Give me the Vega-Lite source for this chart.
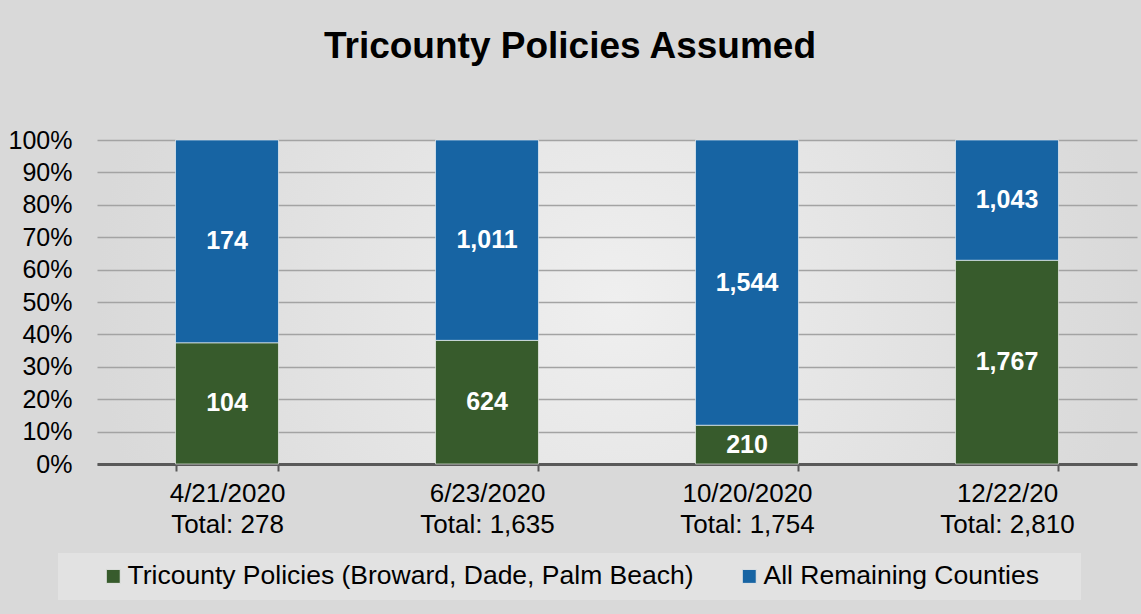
{
  "$schema": "https://vega.github.io/schema/vega-lite/v6.json",
  "width": 1040,
  "height": 324,
  "autosize": {"type": "none"},
  "padding": {"left": 97, "top": 140, "right": 4, "bottom": 150},
  "background": "#d9d9d9",
  "title": {
    "text": "Tricounty Policies Assumed",
    "fontSize": 37,
    "font": "Liberation Sans",
    "fontWeight": "bold",
    "color": "#000000",
    "anchor": "middle",
    "dx": -47,
    "offset": 62
  },
  "config": {
    "font": "Liberation Sans",
    "view": {
      "stroke": null,
      "fill": {
        "gradient": "radial",
        "stops": [
          {"offset": 0, "color": "#efefef"},
          {"offset": 1, "color": "#d9d9d9"}
        ]
      }
    },
    "axisY": {
      "title": null,
      "values": [0, 0.1, 0.2, 0.3, 0.4, 0.5, 0.6, 0.7, 0.8, 0.9, 1],
      "format": ".0%",
      "domain": false,
      "ticks": false,
      "labelFontSize": 25,
      "labelColor": "#000000",
      "labelFont": "Liberation Sans",
      "labelPadding": 25,
      "labelFlush": false,
      "labelOverlap": false,
      "gridColor": "#a3a3a3",
      "gridWidth": 1.5
    }
  },
  "data": {
    "values": [
      {"cat": "4/21/2020|Total: 278", "series": "Tricounty Policies (Broward, Dade, Palm Beach)", "ord": 1, "count": 104},
      {"cat": "4/21/2020|Total: 278", "series": "All Remaining Counties", "ord": 2, "count": 174},
      {"cat": "6/23/2020|Total: 1,635", "series": "Tricounty Policies (Broward, Dade, Palm Beach)", "ord": 1, "count": 624},
      {"cat": "6/23/2020|Total: 1,635", "series": "All Remaining Counties", "ord": 2, "count": 1011},
      {"cat": "10/20/2020|Total: 1,754", "series": "Tricounty Policies (Broward, Dade, Palm Beach)", "ord": 1, "count": 210},
      {"cat": "10/20/2020|Total: 1,754", "series": "All Remaining Counties", "ord": 2, "count": 1544},
      {"cat": "12/22/20|Total: 2,810", "series": "Tricounty Policies (Broward, Dade, Palm Beach)", "ord": 1, "count": 1767},
      {"cat": "12/22/20|Total: 2,810", "series": "All Remaining Counties", "ord": 2, "count": 1043}
    ]
  },
  "encoding": {
    "x": {
      "field": "cat",
      "type": "nominal",
      "sort": null,
      "scale": {"paddingInner": 0.604, "paddingOuter": 0.302},
      "axis": {
        "title": null,
        "labelAngle": 0,
        "labelExpr": "split(datum.label, '|')",
        "labelFontSize": 26,
        "labelLineHeight": 31,
        "labelColor": "#000000",
        "labelFont": "Liberation Sans",
        "labelPadding": 9,
        "domainColor": "#595959",
        "domainWidth": 3,
        "tickColor": "#595959",
        "tickWidth": 2,
        "tickSize": 7,
        "tickBand": "extent",
        "grid": false
      }
    }
  },
  "layer": [
    {
      "mark": {"type": "bar", "stroke": "#ffffff", "strokeOpacity": 0.6, "strokeWidth": 1},
      "encoding": {
        "y": {
          "field": "count",
          "type": "quantitative",
          "stack": "normalize",
          "scale": {"domain": [0, 1]},
          "axis": {"values": [0, 0.1, 0.2, 0.3, 0.4, 0.5, 0.6, 0.7, 0.8, 0.9, 1], "format": ".0%", "title": null}
        },
        "color": {
          "field": "series",
          "type": "nominal",
          "scale": {
            "domain": ["Tricounty Policies (Broward, Dade, Palm Beach)", "All Remaining Counties"],
            "range": ["#375B2C", "#1764A3"]
          },
          "legend": {
            "orient": "none",
            "legendX": -39,
            "legendY": 413,
            "direction": "horizontal",
            "title": " ",
            "titleOrient": "right",
            "titleFontSize": 10,
            "titlePadding": 32,
            "fillColor": "#e2e2e2",
            "padding": 10,
            "symbolType": "square",
            "symbolSize": 196,
            "symbolStrokeWidth": 1,
            "symbolStrokeColor": "#e6e6e6",
            "symbolOffset": 32,
            "labelFontSize": 26.5,
            "labelColor": "#000000",
            "labelFont": "Liberation Sans",
            "labelOffset": 1,
            "labelLimit": 800,
            "columnPadding": 10
          }
        },
        "order": {"field": "ord", "type": "quantitative"}
      }
    },
    {
      "mark": {"type": "text", "color": "#ffffff", "fontSize": 25, "fontWeight": "bold", "font": "Liberation Sans"},
      "encoding": {
        "y": {
          "field": "count",
          "type": "quantitative",
          "stack": "normalize",
          "bandPosition": 0.5,
          "axis": {"values": [0, 0.1, 0.2, 0.3, 0.4, 0.5, 0.6, 0.7, 0.8, 0.9, 1], "format": ".0%", "title": null}
        },
        "detail": {"field": "series", "type": "nominal"},
        "order": {"field": "ord", "type": "quantitative"},
        "text": {"field": "count", "type": "quantitative", "format": ","}
      }
    }
  ]
}
